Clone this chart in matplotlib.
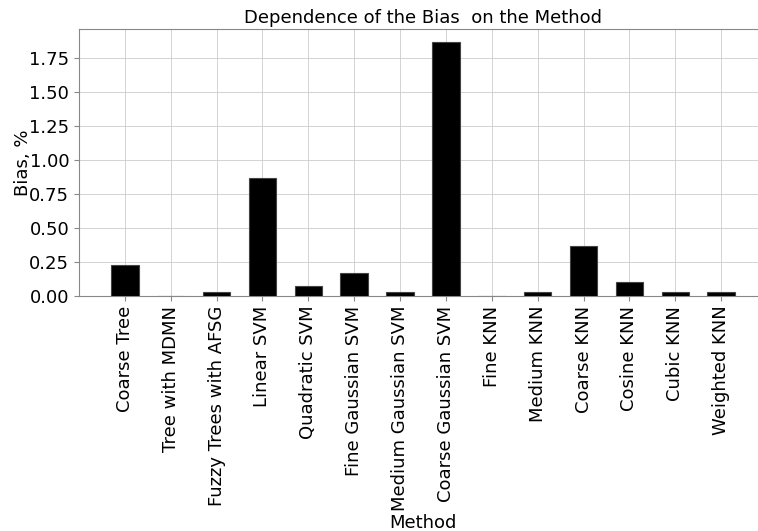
import matplotlib
matplotlib.use("Agg")
import matplotlib.pyplot as plt
import numpy as np

methods = [
    "Coarse Tree", "Tree with MDMN", "Fuzzy Trees with AFSG", "Linear SVM",
    "Quadratic SVM", "Fine Gaussian SVM", "Medium Gaussian SVM",
    "Coarse Gaussian SVM", "Fine KNN", "Medium KNN", "Coarse KNN",
    "Cosine KNN", "Cubic KNN", "Weighted KNN",
]
bias = [0.23, 0.0, 0.03, 0.87, 0.07, 0.17, 0.03, 1.87, 0.0, 0.03, 0.37, 0.10, 0.03, 0.03]

W, H = 758, 531
fig = plt.figure(figsize=(W / 100, H / 100), dpi=100)
ax = fig.add_axes([79 / W, 1 - 296 / H, 688 / W, (296 - 29) / H])

fs = 13
x = np.arange(len(methods))
ax.bar(x, bias, width=0.6, color="black", edgecolor="#444444", linewidth=0.8, zorder=3)
ax.set_xticks(x)
ax.set_xticklabels(methods, rotation=90, fontsize=fs)
ax.tick_params(axis="y", labelsize=fs)
ax.tick_params(colors="#888888", labelcolor="black", width=0.8, length=3.5)
ax.set_yticks(np.arange(0, 1.76, 0.25))
ax.set_xlim(-1.0, 14.0)
ax.set_ylim(0, 1.963)
ax.grid(True, color="#cccccc", linewidth=0.6, zorder=0)
ax.set_axisbelow(True)
for s in ax.spines.values():
    s.set_color("#888888")
    s.set_linewidth(0.8)
ax.spines["right"].set_visible(False)

ax.set_title("Dependence of the Bias  on the Method", fontsize=fs, pad=4)
ax.set_xlabel("Method", fontsize=fs, labelpad=2)
ax.set_ylabel("Bias, %", fontsize=fs, labelpad=-2)

fig.savefig("out.png", dpi=100)
